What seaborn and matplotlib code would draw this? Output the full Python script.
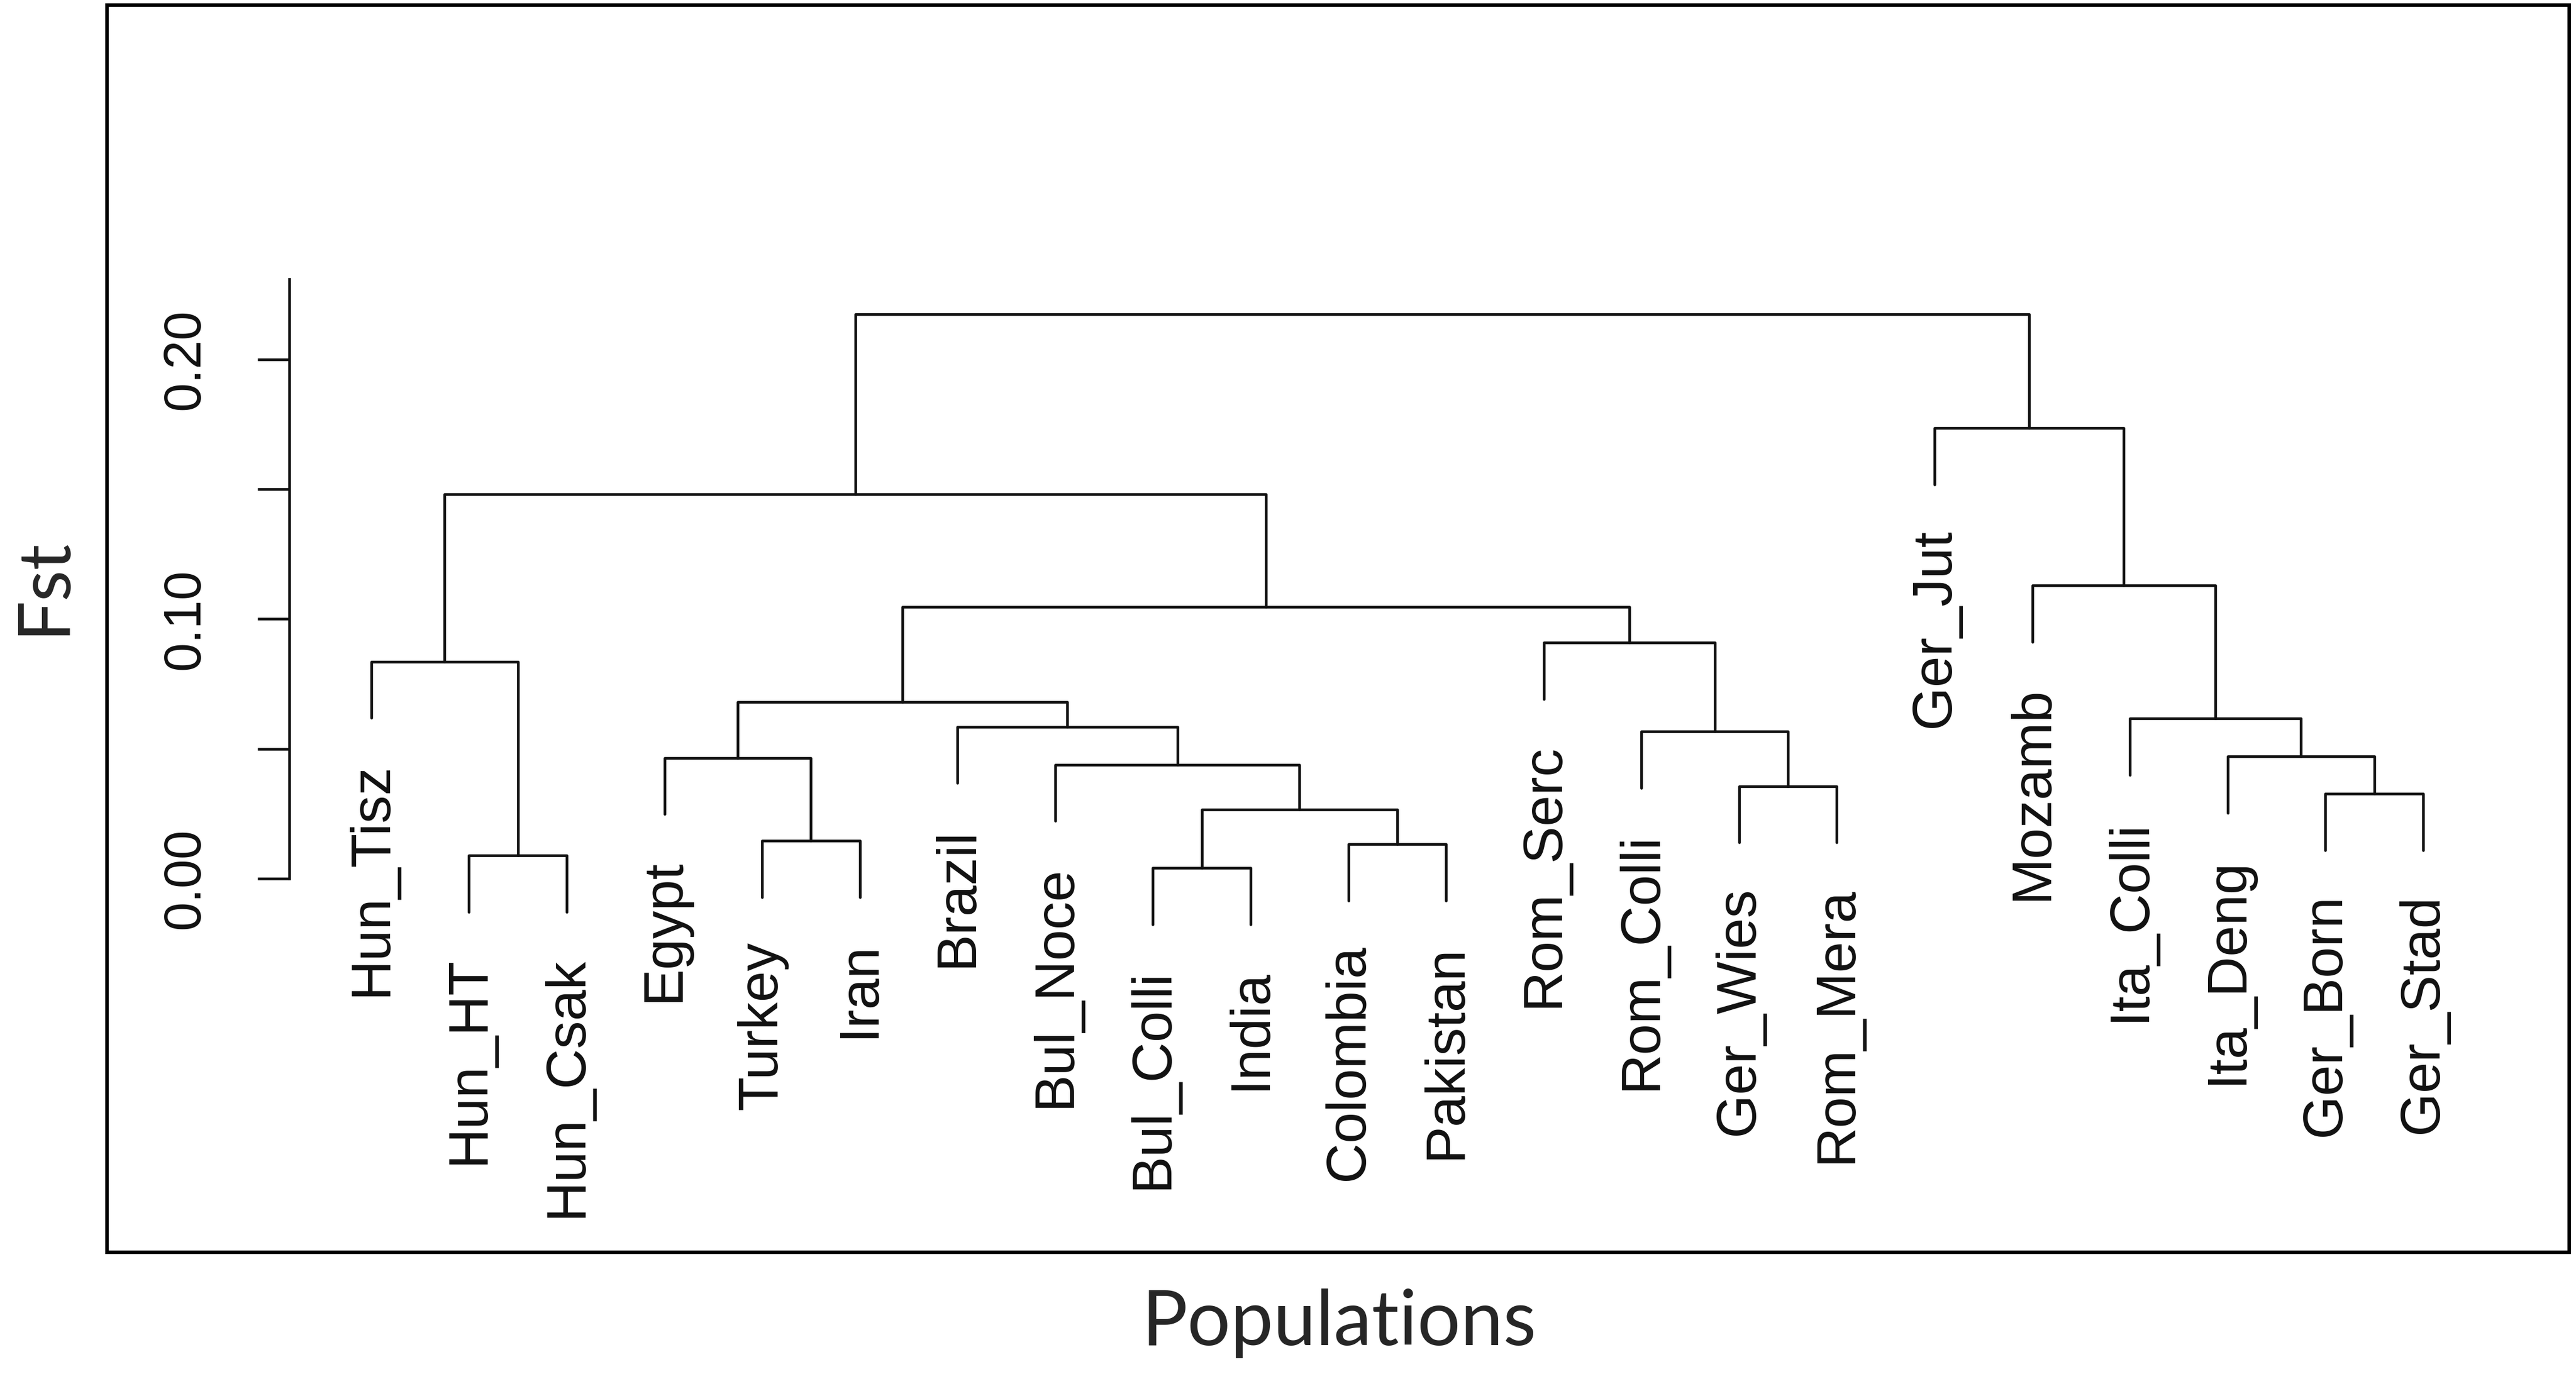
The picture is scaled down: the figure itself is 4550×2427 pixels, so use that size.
import pandas as pd
import matplotlib.pyplot as plt
import seaborn as sns
from matplotlib.patches import Rectangle

# leaf order as drawn
leaves = ["Hun_Tisz", "Hun_HT", "Hun_Csak", "Egypt", "Turkey", "Iran", "Brazil",
          "Bul_Noce", "Bul_Colli", "India", "Colombia", "Pakistan", "Rom_Serc",
          "Rom_Colli", "Ger_Wies", "Rom_Mera", "Ger_Jut", "Mozamb", "Ita_Colli",
          "Ita_Deng", "Ger_Born", "Ger_Stad"]

# merges: a name is a leaf, an int is an earlier merge
merge_left = ["Hun_HT", "Hun_Tisz", "Turkey", "Egypt", "Bul_Colli", "Colombia", 4,
              "Bul_Noce", "Brazil", 3, "Ger_Wies", "Rom_Colli", "Rom_Serc", 9, 1,
              "Ger_Born", "Ita_Deng", "Ita_Colli", "Mozamb", "Ger_Jut", 14]
merge_right = ["Hun_Csak", 0, "Iran", 2, "India", "Pakistan", 5, 6, 7, 8,
               "Rom_Mera", 10, 11, 12, 13, "Ger_Stad", 15, 16, 17, 18, 19]
merge_height = [0.0088, 0.0836, 0.0146, 0.0465, 0.0041, 0.0133, 0.0266, 0.0439,
                0.0585, 0.0680, 0.0356, 0.0567, 0.0909, 0.1046, 0.1480, 0.0327,
                0.0470, 0.0616, 0.1130, 0.1736, 0.2175]

hang = 0.1 * max(merge_height)

sns.set_style("ticks")
plt.rcParams['font.family'] = ['Liberation Sans', 'DejaVu Sans']

leaf_x = {name: i + 1 for i, name in enumerate(leaves)}
node_x = []
rows = []
leaf_end = {}
for i, (a, b, h) in enumerate(zip(merge_left, merge_right, merge_height)):
    ends = []
    for child in (a, b):
        if isinstance(child, str):
            x = leaf_x[child]
            y = h - hang
            leaf_end[child] = y
        else:
            x = node_x[child]
            y = merge_height[child]
        ends.append((x, y))
    (xa, ya), (xb, yb) = ends
    node_x.append((xa + xb) / 2)
    for px, py in [(xa, ya), (xa, h), (xb, h), (xb, yb)]:
        rows.append({"merge": i, "x": px, "y": py})

segs = pd.DataFrame(rows)

fig = plt.figure(figsize=(45.5, 24.27), dpi=100)
ax = fig.add_axes([0.1123, 0.3115, 0.9725 - 0.1123, 0.7969 - 0.3115])

sns.lineplot(data=segs, x="x", y="y", units="merge", estimator=None, sort=False,
             color="#111111", lw=3.4, legend=False, ax=ax)

for name in leaves:
    ax.text(leaf_x[name], leaf_end[name] - 0.017, name, rotation=90,
            ha="center", va="top", fontsize=71, color="#111111")

ax.set_xlim(0.16, 22.84)
ax.set_ylim(-0.026, 0.231)
for side in ["top", "right", "bottom"]:
    ax.spines[side].set_visible(False)
ax.spines["left"].set_bounds(0, 0.231)
ax.spines["left"].set_linewidth(3.4)
ax.spines["left"].set_color("#111111")
ax.set_xticks([])
ax.set_yticks([0, 0.05, 0.10, 0.15, 0.20])
ax.set_yticklabels(["0.00", "", "0.10", "", "0.20"], rotation=90, va="center")
ax.tick_params(axis="y", length=40, width=3.4, pad=61, labelsize=66,
               color="#111111", labelcolor="#111111")
ax.set_xlabel("")
ax.set_ylabel("")
ax.patch.set_alpha(0)

fig.text(77 / 4550, 1 - 1035 / 2427, "Fst", rotation=90, ha="center", va="center",
         fontsize=92, family=["Lato", "DejaVu Sans"])
fig.text(2365 / 4550, 1 - 2376 / 2427, "Populations", ha="center", va="baseline",
         fontsize=97, family=["Lato", "DejaVu Sans"])

fig.add_artist(Rectangle((0.0415, 0.0886), 0.9974 - 0.0415, 0.9963 - 0.0886,
                         transform=fig.transFigure, fill=False, lw=4.5, ec="black"))

fig.savefig("out.png", dpi=100)
